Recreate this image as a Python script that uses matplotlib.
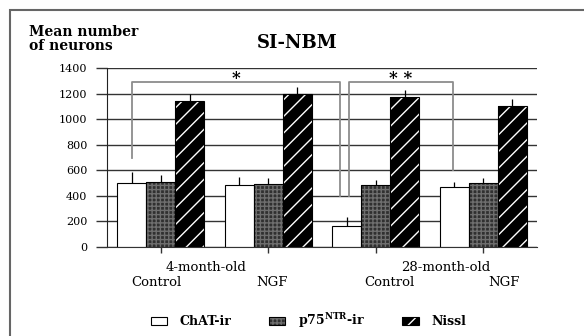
import numpy as np
import matplotlib.pyplot as plt
from matplotlib.patches import Rectangle, Patch
from matplotlib.legend_handler import HandlerTuple

plt.rcParams['font.family'] = 'DejaVu Serif'
plt.rcParams['mathtext.fontset'] = 'dejavuserif'
plt.rcParams['hatch.linewidth'] = 1.0

groups = ['4-month-old Control', '4-month-old NGF', '28-month-old Control', '28-month-old NGF']
chat = [500, 485, 165, 466]
chat_err = [90, 60, 67, 45]
p75 = [508, 492, 485, 498]
p75_err = [55, 48, 40, 40]
nissl = [1140, 1200, 1175, 1100]
nissl_err = [55, 52, 53, 55]

# significance brackets: (x_left, x_right, y_top, left leg bottom, right leg bottom, label)
brackets = [(0.23, 2.167, 1290, 700, 400, '*'),
            (2.25, 3.22, 1290, 400, 600, '* *')]

fig = plt.figure(figsize=(5.84, 3.36), dpi=100)
ax = fig.add_axes([0.1832, 0.2649, 0.7363, 0.5327])

x = np.arange(len(groups)) + 0.5
w = 0.27
p75_face, p75_hatch = '#303030', '#6e6e6e'

ax.set_axisbelow(True)
ax.grid(axis='y', color='#333333', lw=1.0)
ax.bar(x - w, chat, w, color='white', edgecolor='black', lw=0.8, zorder=2)
ax.bar(x, p75, w, color=p75_face, edgecolor=p75_hatch, hatch='++++', lw=0, zorder=2)
ax.bar(x, p75, w, fill=False, edgecolor='black', lw=0.8, zorder=2)
ax.bar(x + w, nissl, w, color='black', edgecolor='white', hatch='//', lw=0, zorder=2)
ax.bar(x + w, nissl, w, fill=False, edgecolor='black', lw=0.8, zorder=2)

for off, vals, errs in [(-w, chat, chat_err), (0, p75, p75_err), (w, nissl, nissl_err)]:
    ax.errorbar(x + off, vals, yerr=[np.zeros(len(errs)), errs], fmt='none',
                ecolor='black', elinewidth=0.9, capsize=0, zorder=3)

for xl, xr, yt, bl, br, lab in brackets:
    ax.plot([xl, xl, xr, xr], [bl, yt, yt, br], color='#8c8c8c', lw=1.3, zorder=1.5)
    ax.text((xl + xr) / 2, yt - 35, lab, ha='center', va='bottom',
            fontsize=12, fontweight='bold')

ax.set_xlim(0, 4)
ax.set_ylim(0, 1400)
ax.set_yticks(np.arange(0, 1401, 200))
ax.set_xticks(x)
ax.set_xticklabels([])
ax.tick_params(axis='y', length=8, width=1.0, color='#333333', pad=6, labelsize=8)
ax.tick_params(axis='x', length=4.5, width=1.0, color='#333333')
for s in ['top', 'right']:
    ax.spines[s].set_visible(False)
ax.spines['left'].set_color('#222222')
ax.spines['bottom'].set_color('#333333')

tr = ax.get_xaxis_transform()
ax.text(0.92, -0.112, '4-month-old', transform=tr, ha='center', va='center', fontsize=9.5)
ax.text(3.15, -0.112, '28-month-old', transform=tr, ha='center', va='center', fontsize=9.5)
for xp, lab in [(0.456, 'Control'), (1.535, 'NGF'), (2.63, 'Control'), (3.69, 'NGF')]:
    ax.text(xp, -0.196, lab, transform=tr, ha='center', va='center', fontsize=9.5)

fig.text(0.509, 0.872, 'SI-NBM', ha='center', va='center', fontsize=13, fontweight='bold')
fig.text(0.050, 0.925, 'Mean number\nof neurons', ha='left', va='top', fontsize=10,
         fontweight='bold', linespacing=1.0)

h_chat = Patch(facecolor='white', edgecolor='black', lw=0.8)
h_p75 = (Patch(facecolor=p75_face, edgecolor=p75_hatch, hatch='++++', lw=0),
         Patch(fill=False, edgecolor='black', lw=0.8))
h_nissl = (Patch(facecolor='black', edgecolor='white', hatch='//', lw=0),
           Patch(fill=False, edgecolor='black', lw=0.8))
fig.legend([h_chat, h_p75, h_nissl], ['ChAT-ir', r'p75$^{\mathbf{NTR}}$-ir', 'Nissl'],
           handler_map={tuple: HandlerTuple(ndivide=1, pad=0)},
           loc='center', bbox_to_anchor=(0.528, 0.045), ncol=3, frameon=False,
           prop={'weight': 'bold', 'size': 9}, handlelength=1.3, handleheight=0.7,
           handletextpad=1.0, columnspacing=3.0)

fig.patches.append(Rectangle((9.5 / 584, -0.1), 1.2, 1.1 - 10 / 336,
                             transform=fig.transFigure, fill=False,
                             edgecolor='#666666', lw=1.5))

fig.savefig('out.png', dpi=100)
